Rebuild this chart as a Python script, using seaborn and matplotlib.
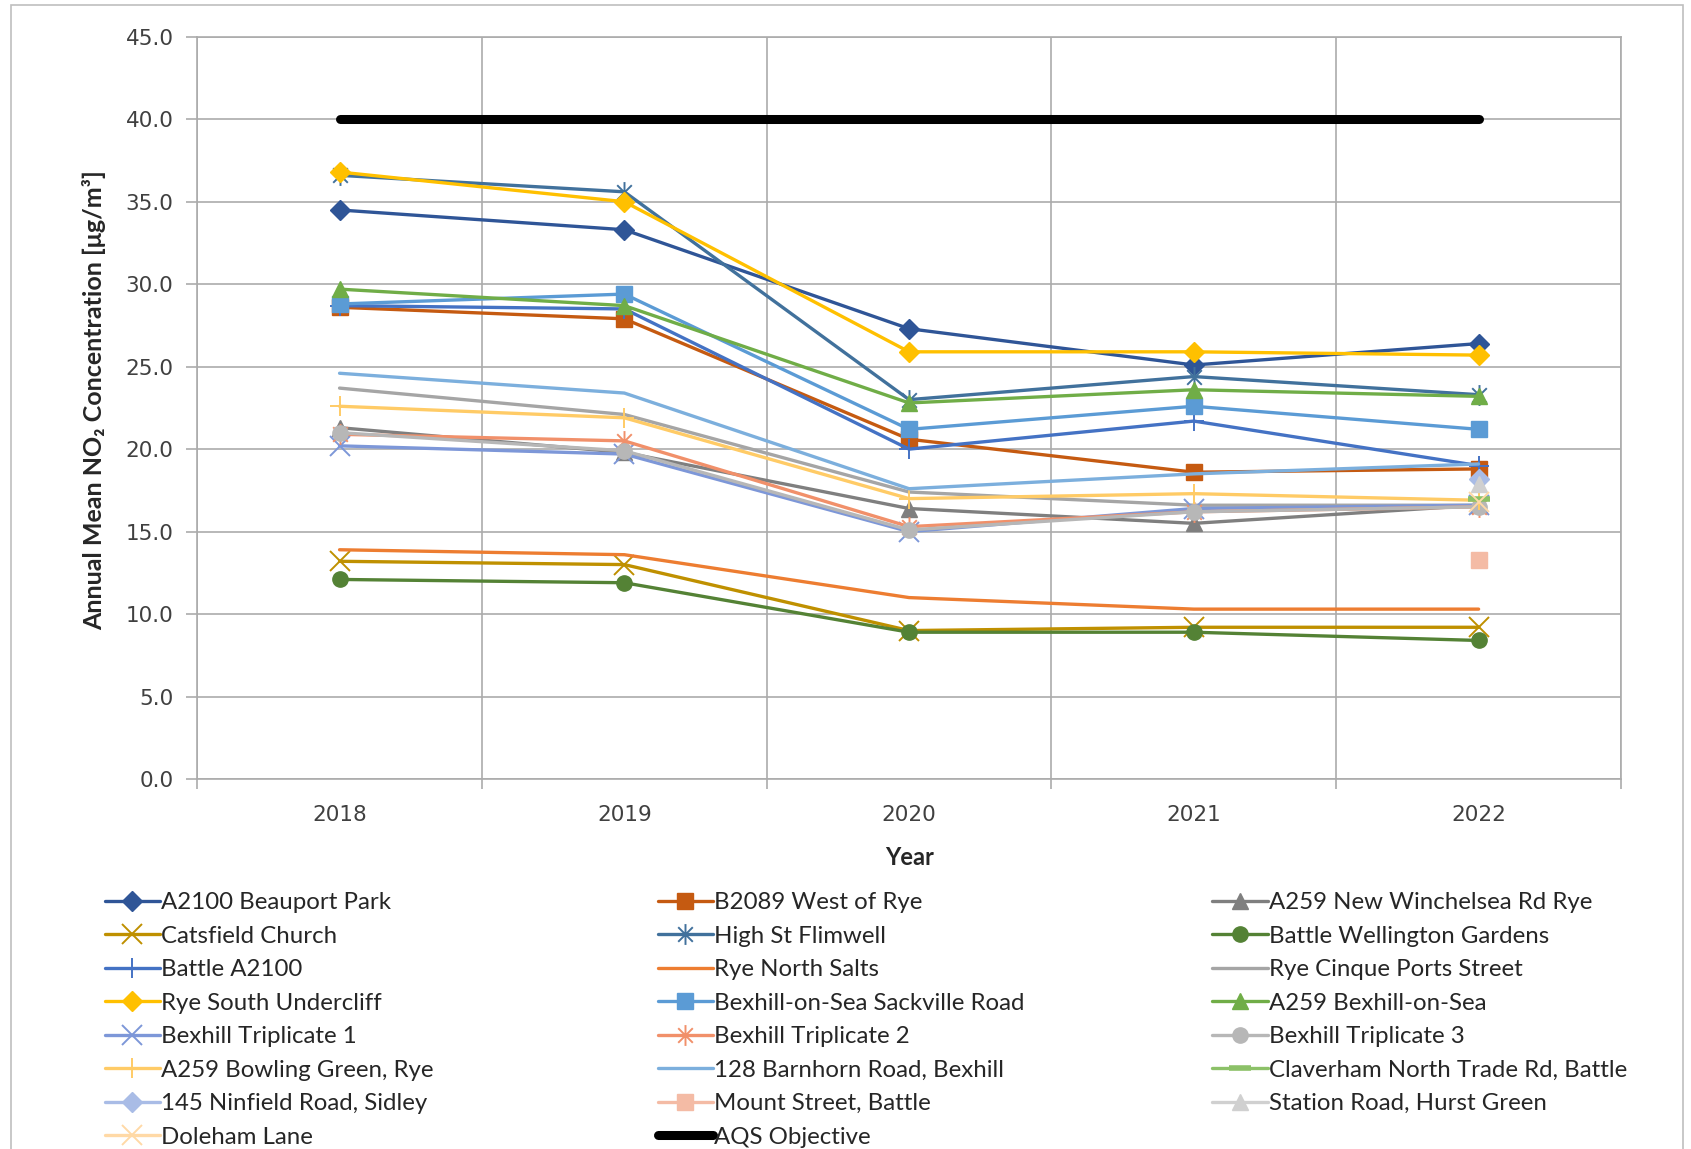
import numpy as np
import pandas as pd
import matplotlib
matplotlib.use("Agg")
import matplotlib.pyplot as plt
import seaborn as sns
from matplotlib.path import Path
from matplotlib.patches import Rectangle

nan = np.nan
years = [2018, 2019, 2020, 2021, 2022]

sites = [
    "A2100 Beauport Park", "B2089 West of Rye", "A259 New Winchelsea Rd Rye",
    "Catsfield Church", "High St Flimwell", "Battle Wellington Gardens",
    "Battle A2100", "Rye North Salts", "Rye Cinque Ports Street",
    "Rye South Undercliff", "Bexhill-on-Sea Sackville Road", "A259 Bexhill-on-Sea",
    "Bexhill Triplicate 1", "Bexhill Triplicate 2", "Bexhill Triplicate 3",
    "A259 Bowling Green, Rye", "128 Barnhorn Road, Bexhill", "Claverham North Trade Rd, Battle",
    "145 Ninfield Road, Sidley", "Mount Street, Battle", "Station Road, Hurst Green",
    "Doleham Lane", "AQS Objective",
]

beauport = [34.5, 33.3, 27.3, 25.1, 26.4]
west_of_rye = [28.6, 27.9, 20.6, 18.6, 18.8]
new_winchelsea = [21.3, 19.8, 16.4, 15.5, 16.6]
catsfield = [13.2, 13.0, 9.0, 9.2, 9.2]
flimwell = [36.6, 35.6, 23.0, 24.4, 23.3]
wellington = [12.1, 11.9, 8.9, 8.9, 8.4]
battle_a2100 = [28.7, 28.5, 20.0, 21.7, 19.0]
north_salts = [13.9, 13.6, 11.0, 10.3, 10.3]
cinque_ports = [23.7, 22.1, 17.4, 16.6, 16.6]
south_undercliff = [36.8, 35.0, 25.9, 25.9, 25.7]
sackville = [28.8, 29.4, 21.2, 22.6, 21.2]
a259_bexhill = [29.7, 28.7, 22.8, 23.6, 23.2]
triplicate_1 = [20.2, 19.7, 15.0, 16.4, 16.6]
triplicate_2 = [20.9, 20.5, 15.3, 16.2, 16.5]
triplicate_3 = [21.0, 19.9, 15.1, 16.2, 16.5]
bowling_green = [22.6, 21.9, 17.0, 17.3, 16.9]
barnhorn = [24.6, 23.4, 17.6, 18.5, 19.1]
claverham = [nan, nan, nan, nan, 17.0]
ninfield = [nan, nan, nan, nan, 18.2]
mount_street = [nan, nan, nan, nan, 13.3]
station_road = [nan, nan, nan, nan, 17.9]
doleham = [nan, nan, nan, nan, 16.8]
aqs = [40.0, 40.0, 40.0, 40.0, 40.0]

series = [beauport, west_of_rye, new_winchelsea, catsfield, flimwell, wellington,
          battle_a2100, north_salts, cinque_ports, south_undercliff, sackville, a259_bexhill,
          triplicate_1, triplicate_2, triplicate_3, bowling_green, barnhorn, claverham,
          ninfield, mount_street, station_road, doleham, aqs]

colors = ["#2F5597", "#C55A11", "#7F7F7F", "#BF9000", "#41719C", "#548235",
          "#4472C4", "#ED7D31", "#A5A5A5", "#FFC000", "#5B9BD5", "#70AD47",
          "#7D97D8", "#F1906A", "#B7B7B7", "#FFCB66", "#7CAFDD", "#8CC168",
          "#A9BCE6", "#F4BBA5", "#D0D0D0", "#FFD9A6", "#000000"]

# excel-like asterisk marker
star = Path([(0, -1), (0, 1), (-0.7, -0.7), (0.7, 0.7), (-0.7, 0.7), (0.7, -0.7)],
            [Path.MOVETO, Path.LINETO] * 3)
markers = ["D", "s", "^", "x", star, "o",
           "+", None, None, "D", "s", "^",
           "x", star, "o", "+", None, "_",
           "D", "s", "^", "x", None]
line_markers = {"x", "+", "_"}

sns.set_style("white")
plt.rcParams["font.family"] = ["DejaVu Sans"]

fig = plt.figure(figsize=(16.91, 11.49), dpi=100)
ax = fig.add_axes([0.1166, 0.322, 0.842, 0.646])

handles = []
for name, vals, col, mk in zip(sites, series, colors, markers):
    df = pd.DataFrame({"year": years, "value": vals}).dropna()
    kw = dict(color=col, linewidth=2.4, markersize=11)
    if name == "AQS Objective":
        kw["linewidth"] = 6.5
    if mk is not None:
        kw["marker"] = mk
        kw["markeredgecolor"] = col
        kw["markerfacecolor"] = col
        if isinstance(mk, str) and mk in line_markers:
            kw["markeredgewidth"] = 1.4
            kw["markersize"] = 14
        elif isinstance(mk, Path):
            kw["markeredgewidth"] = 1.4
            kw["markersize"] = 15
        else:
            kw["markeredgewidth"] = 1
            if mk == "D":
                kw["markersize"] = 10
    if mk == "_":
        kw["markersize"] = 16
        kw["markeredgewidth"] = 4
    sns.lineplot(data=df, x="year", y="value", ax=ax, legend=False, **kw)
    line = ax.lines[-1]
    line.set_label(name)
    handles.append(line)

grid_col = "#ABABAB"
ax.set_xlim(2017.5, 2022.5)
ax.set_ylim(0, 45)
ax.set_yticks(np.arange(0, 46, 5))
ax.set_yticklabels([f"{v:.1f}" for v in np.arange(0, 46, 5)])
ax.set_xticks(years)
ax.set_xticks(np.arange(2017.5, 2023, 1.0), minor=True)
ax.grid(False)
ax.yaxis.grid(True, color=grid_col, linewidth=1.2)
ax.xaxis.grid(True, which="minor", color=grid_col, linewidth=1.2)
ax.set_axisbelow(True)
for s in ax.spines.values():
    s.set_color(grid_col)
    s.set_linewidth(1.2)
ax.tick_params(axis="x", which="major", length=0, pad=19, labelsize=15.5, labelcolor="#404040")
ax.tick_params(axis="x", which="minor", length=7, color=grid_col, width=1.2, direction="out", bottom=True)
ax.tick_params(axis="y", length=8, color=grid_col, width=1.2, direction="out", left=True,
               pad=9, labelsize=15.5, labelcolor="#404040")

ax.set_xlabel("Year", fontsize=17, fontweight="bold", family=["Lato", "DejaVu Sans"], color="#262626")
ax.xaxis.set_label_coords(0.5, -0.09)
ax.set_ylabel("Annual Mean NO₂ Concentration [μg/m³]", fontsize=18, fontweight="bold",
              family=["Lato", "DejaVu Sans"], color="#262626")
ax.yaxis.set_label_coords(-0.064, 0.51)

# legend laid out in three columns, row-major as in the original
col_x = [0.0619, 0.389, 0.717]
for c in range(3):
    hs = handles[c::3]
    leg = fig.legend(handles=hs, labels=[h.get_label() for h in hs], loc="upper left",
                     bbox_to_anchor=(col_x[c], 0.2235), frameon=False, borderpad=0,
                     borderaxespad=0, handlelength=2.3, handletextpad=0.05,
                     labelspacing=0.52, prop={"family": ["Lato", "DejaVu Sans"], "size": 17.3})
    for t in leg.get_texts():
        t.set_color("#262626")

fig.patches.append(Rectangle((0.0065, -0.01), 0.989, 1.0055, transform=fig.transFigure,
                             fill=False, edgecolor="#BFBFBF", linewidth=1.2))

fig.savefig("out.png", dpi=100)
